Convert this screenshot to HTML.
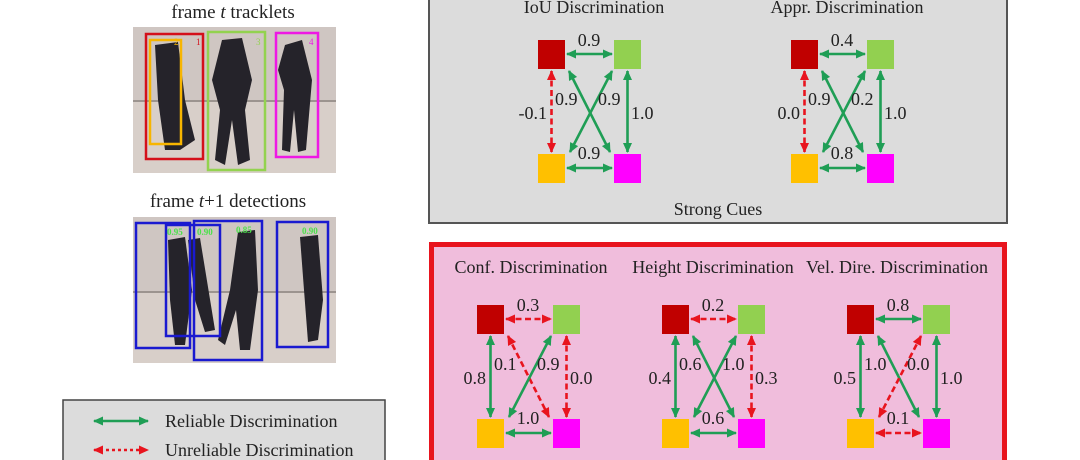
<!DOCTYPE html>
<html><head><meta charset="utf-8"><style>
html,body{margin:0;padding:0;background:#fff;}
svg{display:block;font-family:"Liberation Serif",serif;}
</style></head><body>
<svg width="1080" height="460" viewBox="0 0 1080 460" xmlns="http://www.w3.org/2000/svg">
<defs>
<marker id="mg" markerUnits="userSpaceOnUse" markerWidth="10" markerHeight="9" refX="9" refY="4.5" orient="auto-start-reverse"><path d="M0,0 L10,4.5 L0,9 z" fill="#1f9e55"/></marker>
<marker id="mr" markerUnits="userSpaceOnUse" markerWidth="10" markerHeight="9" refX="9" refY="4.5" orient="auto-start-reverse"><path d="M0,0 L10,4.5 L0,9 z" fill="#e8141e"/></marker>
<style>
.g{stroke:#1f9e55;stroke-width:2.6;marker-start:url(#mg);marker-end:url(#mg);fill:none}
.r{stroke:#e8141e;stroke-width:2.6;stroke-dasharray:6 3.5;marker-start:url(#mr);marker-end:url(#mr);fill:none}
.t{font-size:18px;fill:#222}
.h{font-size:18px;fill:#222}
</style>
</defs>

<!-- Left photos -->
<text x="233" y="18" text-anchor="middle" font-size="19" fill="#222">frame <tspan font-style="italic">t</tspan> tracklets</text>
<rect x="133" y="27" width="203" height="146" fill="#cfc6c2"/>
<rect x="133" y="100" width="203" height="73" fill="#d8cfc9"/>
<line x1="133" y1="101" x2="336" y2="101" stroke="#9c948f" stroke-width="2"/>
<g fill="#25232a">
<path d="M155,45 L178,42 L185,100 L195,140 L180,150 L165,150 L158,100 Z"/>
<path d="M222,40 L242,38 L252,80 L245,110 L250,160 L238,165 L232,120 L225,165 L215,160 L220,110 L212,80 Z"/>
<path d="M285,45 L302,40 L312,80 L306,150 L298,152 L294,110 L290,152 L282,150 L284,90 L278,70 Z"/>
</g>
<rect x="146" y="34" width="57" height="125" fill="none" stroke="#d4101a" stroke-width="2.5"/>
<rect x="150" y="40" width="31" height="104" fill="none" stroke="#f7b500" stroke-width="2.5"/>
<rect x="208" y="32" width="57" height="138" fill="none" stroke="#93d24f" stroke-width="2.5"/>
<rect x="276" y="33" width="42" height="124" fill="none" stroke="#ee18e4" stroke-width="2.5"/>
<text x="196" y="45" font-size="9" fill="#d4101a">1</text>
<text x="174" y="45" font-size="9" fill="#f7b500">2</text>
<text x="256" y="45" font-size="9" fill="#93d24f">3</text>
<text x="309" y="45" font-size="9" fill="#ee18e4">4</text>

<text x="228" y="207" text-anchor="middle" font-size="19" fill="#222">frame <tspan font-style="italic">t</tspan>+1 detections</text>
<rect x="133" y="217" width="203" height="146" fill="#cfc6c2"/>
<rect x="133" y="292" width="203" height="71" fill="#d8cfc9"/>
<line x1="133" y1="292" x2="336" y2="292" stroke="#9c948f" stroke-width="2"/>
<g fill="#25232a">
<path d="M168,240 L185,237 L192,290 L185,345 L175,345 L170,300 Z"/>
<path d="M188,240 L200,238 L215,330 L205,332 L195,300 Z"/>
<path d="M238,232 L255,230 L258,290 L250,350 L240,350 L236,310 L225,345 L218,340 L230,290 Z"/>
<path d="M300,237 L318,235 L323,300 L318,340 L308,342 L304,290 Z"/>
</g>
<rect x="136" y="223" width="54" height="125" fill="none" stroke="#1a1ad0" stroke-width="2.5"/>
<rect x="166" y="225" width="54" height="111" fill="none" stroke="#1a1ad0" stroke-width="2.5"/>
<rect x="194" y="221" width="68" height="139" fill="none" stroke="#1a1ad0" stroke-width="2.5"/>
<rect x="277" y="222" width="51" height="125" fill="none" stroke="#1a1ad0" stroke-width="2.5"/>
<g font-size="9" fill="#4be04b" font-weight="bold">
<text x="167" y="235">0.95</text><text x="197" y="235">0.90</text><text x="236" y="233">0.85</text><text x="302" y="234">0.90</text>
</g>

<!-- Legend -->
<rect x="63" y="400" width="322" height="70" fill="#dcdcdc" stroke="#444" stroke-width="1.5"/>
<line x1="94" y1="421" x2="148" y2="421" class="g"/>
<line x1="94" y1="450" x2="148" y2="450" class="r" style="stroke-dasharray:3 3"/>
<text x="165" y="427" font-size="18" fill="#222">Reliable Discrimination</text>
<text x="165" y="456" font-size="18" fill="#222">Unreliable Discrimination</text>

<!-- Strong cues box -->
<rect x="429" y="-5" width="578" height="228" fill="#dcdcdc" stroke="#555" stroke-width="2"/>
<text x="594" y="13" text-anchor="middle" class="h">IoU Discrimination</text>
<text x="847" y="13" text-anchor="middle" class="h">Appr. Discrimination</text>
<text x="718" y="215" text-anchor="middle" class="h">Strong Cues</text>

<!-- Weak cues box -->
<rect x="431.5" y="244.5" width="573" height="230" fill="#f0bddc" stroke="#e8141e" stroke-width="5"/>
<text x="531" y="273" text-anchor="middle" class="h">Conf. Discrimination</text>
<text x="713" y="273" text-anchor="middle" class="h">Height Discrimination</text>
<text x="897" y="273" text-anchor="middle" class="h">Vel. Dire. Discrimination</text>

<!-- IoU -->
<g transform="translate(538,40)">
<rect x="0" y="0" width="27" height="29" fill="#c00000"/><rect x="76" y="0" width="27" height="29" fill="#92d050"/>
<rect x="0" y="114" width="27" height="29" fill="#ffc000"/><rect x="76" y="114" width="27" height="29" fill="#ff00ff"/>
<line x1="29" y1="14" x2="74" y2="14" class="g"/><line x1="29" y1="128" x2="74" y2="128" class="g"/>
<line x1="13.5" y1="31" x2="13.5" y2="112" class="r"/><line x1="89.5" y1="31" x2="89.5" y2="112" class="g"/>
<line x1="31" y1="31" x2="72" y2="112" class="g"/><line x1="74" y1="31" x2="32" y2="112" class="g"/>
<text x="51" y="6" text-anchor="middle" class="t">0.9</text><text x="51" y="119" text-anchor="middle" class="t">0.9</text>
<text x="9" y="79" text-anchor="end" class="t">-0.1</text><text x="17" y="65" class="t">0.9</text>
<text x="60" y="65" class="t">0.9</text><text x="93" y="79" class="t">1.0</text>
</g>
<!-- Appr -->
<g transform="translate(791,40)">
<rect x="0" y="0" width="27" height="29" fill="#c00000"/><rect x="76" y="0" width="27" height="29" fill="#92d050"/>
<rect x="0" y="114" width="27" height="29" fill="#ffc000"/><rect x="76" y="114" width="27" height="29" fill="#ff00ff"/>
<line x1="29" y1="14" x2="74" y2="14" class="g"/><line x1="29" y1="128" x2="74" y2="128" class="g"/>
<line x1="13.5" y1="31" x2="13.5" y2="112" class="r"/><line x1="89.5" y1="31" x2="89.5" y2="112" class="g"/>
<line x1="31" y1="31" x2="72" y2="112" class="g"/><line x1="74" y1="31" x2="32" y2="112" class="g"/>
<text x="51" y="6" text-anchor="middle" class="t">0.4</text><text x="51" y="119" text-anchor="middle" class="t">0.8</text>
<text x="9" y="79" text-anchor="end" class="t">0.0</text><text x="17" y="65" class="t">0.9</text>
<text x="60" y="65" class="t">0.2</text><text x="93" y="79" class="t">1.0</text>
</g>
<!-- Conf -->
<g transform="translate(477,305)">
<rect x="0" y="0" width="27" height="29" fill="#c00000"/><rect x="76" y="0" width="27" height="29" fill="#92d050"/>
<rect x="0" y="114" width="27" height="29" fill="#ffc000"/><rect x="76" y="114" width="27" height="29" fill="#ff00ff"/>
<line x1="29" y1="14" x2="74" y2="14" class="r"/><line x1="29" y1="128" x2="74" y2="128" class="g"/>
<line x1="13.5" y1="31" x2="13.5" y2="112" class="g"/><line x1="89.5" y1="31" x2="89.5" y2="112" class="r"/>
<line x1="31" y1="31" x2="72" y2="112" class="r"/><line x1="74" y1="31" x2="32" y2="112" class="g"/>
<text x="51" y="6" text-anchor="middle" class="t">0.3</text><text x="51" y="119" text-anchor="middle" class="t">1.0</text>
<text x="9" y="79" text-anchor="end" class="t">0.8</text><text x="17" y="65" class="t">0.1</text>
<text x="60" y="65" class="t">0.9</text><text x="93" y="79" class="t">0.0</text>
</g>
<!-- Height -->
<g transform="translate(662,305)">
<rect x="0" y="0" width="27" height="29" fill="#c00000"/><rect x="76" y="0" width="27" height="29" fill="#92d050"/>
<rect x="0" y="114" width="27" height="29" fill="#ffc000"/><rect x="76" y="114" width="27" height="29" fill="#ff00ff"/>
<line x1="29" y1="14" x2="74" y2="14" class="r"/><line x1="29" y1="128" x2="74" y2="128" class="g"/>
<line x1="13.5" y1="31" x2="13.5" y2="112" class="g"/><line x1="89.5" y1="31" x2="89.5" y2="112" class="r"/>
<line x1="31" y1="31" x2="72" y2="112" class="g"/><line x1="74" y1="31" x2="32" y2="112" class="g"/>
<text x="51" y="6" text-anchor="middle" class="t">0.2</text><text x="51" y="119" text-anchor="middle" class="t">0.6</text>
<text x="9" y="79" text-anchor="end" class="t">0.4</text><text x="17" y="65" class="t">0.6</text>
<text x="60" y="65" class="t">1.0</text><text x="93" y="79" class="t">0.3</text>
</g>
<!-- Vel -->
<g transform="translate(847,305)">
<rect x="0" y="0" width="27" height="29" fill="#c00000"/><rect x="76" y="0" width="27" height="29" fill="#92d050"/>
<rect x="0" y="114" width="27" height="29" fill="#ffc000"/><rect x="76" y="114" width="27" height="29" fill="#ff00ff"/>
<line x1="29" y1="14" x2="74" y2="14" class="g"/><line x1="29" y1="128" x2="74" y2="128" class="r"/>
<line x1="13.5" y1="31" x2="13.5" y2="112" class="g"/><line x1="89.5" y1="31" x2="89.5" y2="112" class="g"/>
<line x1="31" y1="31" x2="72" y2="112" class="g"/><line x1="74" y1="31" x2="32" y2="112" class="r"/>
<text x="51" y="6" text-anchor="middle" class="t">0.8</text><text x="51" y="119" text-anchor="middle" class="t">0.1</text>
<text x="9" y="79" text-anchor="end" class="t">0.5</text><text x="17" y="65" class="t">1.0</text>
<text x="60" y="65" class="t">0.0</text><text x="93" y="79" class="t">1.0</text>
</g>
</svg>
</body></html>
